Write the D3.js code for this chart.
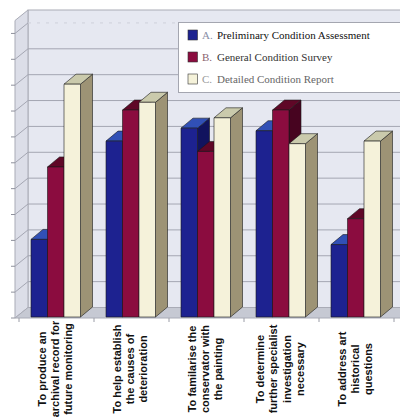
<!DOCTYPE html>
<html>
<head>
<meta charset="utf-8">
<script src="https://cdn.jsdelivr.net/npm/d3@7"></script>
<style>
  html, body { margin: 0; padding: 0; background: #fff; }
  svg { display: block; }
</style>
</head>
<body>
<svg id="chart" width="400" height="418"></svg>
<script>
// Purposes of each type of condition report
const categories = [
  ["To produce an", "archival record for", "future monitoring"],
  ["To help establish", "the causes of", "deterioration"],
  ["To familarise the", "conservator with", "the painting"],
  ["To determine", "further specialist", "investigation", "necessary"],
  ["To address art", "historical", "questions"]
];
const seriesNames = [
  ["A.", "Preliminary Condition Assessment"],
  ["B.", "General Condition Survey"],
  ["C.", "Detailed Condition Report"]
];
const seriesA = [3.0, 6.8, 7.3, 7.2, 2.8];
const seriesB = [5.8, 8.0, 6.4, 8.0, 3.8];
const seriesC = [9.0, 8.3, 7.7, 6.7, 6.8];
const gridValues = [0, 1, 2, 3, 4, 5, 6, 7, 8, 9, 10, 11];

const series = [seriesA, seriesB, seriesC];
const palette = [
  { front: "#1d2290", top: "#3150b6", side: "#11135e" },
  { front: "#8b0c3f", top: "#5f0727", side: "#470420" },
  { front: "#f5f2da", top: "#cacaac", side: "#9d9375" }
];
const legendText = [
  { key: "#8a8fa8", label: "#111" },
  { key: "#8a6470", label: "#333" },
  { key: "#999", label: "#666" }
];

const svg = d3.select("#chart");
const W = 400;

// oblique projection: the floor recedes by (depthX, depthY)
const depthX = 13, depthY = -10.5;
const floorFrontY = 318;
const wallLeft = 28, sideFront = wallLeft - depthX;

const yBack = d3.scaleLinear().domain([0, 11.5]).range([floorFrontY + depthY, 10]);
const yFront = d3.scaleLinear().domain([0, 11.5]).range([317, 317 - (yBack(0) - yBack(11.5))]);

const x = d3.scaleBand().domain(d3.range(categories.length)).range([19, 394]);
const xSub = d3.scaleBand().domain(d3.range(series.length)).range([12, 61.5]);
const barDX = 12, barDY = -10;

// back wall
svg.append("rect")
  .attr("x", wallLeft).attr("y", yBack(11.5))
  .attr("width", W - wallLeft + 5).attr("height", yBack(0) - yBack(11.5))
  .attr("fill", "#e6e8f1").attr("stroke", "#a9abb6").attr("stroke-width", 1);

// left side wall
svg.append("path")
  .attr("d", `M${sideFront},${floorFrontY} L${sideFront},${yBack(11.5) - depthY} L${wallLeft},${yBack(11.5)} L${wallLeft},${yBack(0)} Z`)
  .attr("fill", "#dcdee8").attr("stroke", "#a9abb6").attr("stroke-width", 1);

// gridlines on the back wall and the side wall
const grid = svg.append("g");
grid.selectAll("line.back").data(gridValues.filter(v => v > 0)).join("line")
  .attr("class", "back")
  .attr("x1", wallLeft).attr("x2", W + 5)
  .attr("y1", d => yBack(d)).attr("y2", d => yBack(d))
  .attr("stroke", d => d === 11 ? "#cfd0da" : "#a4a6b2")
  .attr("stroke-width", 1)
  .attr("stroke-dasharray", d => d === 11 ? "3,6" : null);
grid.selectAll("line.side").data(gridValues.filter(v => v > 0)).join("line")
  .attr("class", "side")
  .attr("x1", sideFront).attr("x2", wallLeft)
  .attr("y1", d => yBack(d) - depthY).attr("y2", d => yBack(d))
  .attr("stroke", "#a4a6b2").attr("stroke-width", 1);
grid.selectAll("line.tick").data(gridValues).join("line")
  .attr("class", "tick")
  .attr("x1", sideFront - 4).attr("x2", sideFront)
  .attr("y1", d => yBack(d) - depthY).attr("y2", d => yBack(d) - depthY)
  .attr("stroke", "#8f919c").attr("stroke-width", 1);

// floor
svg.append("path")
  .attr("d", `M${sideFront},${floorFrontY} L${W + 5},${floorFrontY} L${W + 5},${yBack(0)} L${wallLeft},${yBack(0)} Z`)
  .attr("fill", "#c6c9d3").attr("stroke", "#a9abb6").attr("stroke-width", 1);
svg.selectAll("line.cat").data(d3.range(categories.length + 1)).join("line")
  .attr("class", "cat")
  .attr("x1", i => 19 + i * x.step()).attr("x2", i => 19 + i * x.step())
  .attr("y1", floorFrontY).attr("y2", floorFrontY + 4)
  .attr("stroke", "#9a9ca6").attr("stroke-width", 1);

// 3D columns, drawn left to right so neighbours overlap correctly
const bars = [];
categories.forEach((c, ci) => {
  series.forEach((s, si) => bars.push({ ci, si, v: s[ci] }));
});
const barG = svg.append("g").attr("stroke", "#1a1a1a").attr("stroke-width", 0.6).attr("stroke-linejoin", "round");
bars.forEach(b => {
  const x0 = x(b.ci) + xSub(b.si), x1 = x0 + xSub.bandwidth();
  const y0 = yFront(0), y1 = yFront(b.v);
  const col = palette[b.si];
  const g = barG.append("g");
  g.append("path")
    .attr("d", `M${x1},${y0} L${x1 + barDX},${y0 + barDY} L${x1 + barDX},${y1 + barDY} L${x1},${y1} Z`)
    .attr("fill", col.side);
  g.append("path")
    .attr("d", `M${x0},${y1} L${x0 + barDX},${y1 + barDY} L${x1 + barDX},${y1 + barDY} L${x1},${y1} Z`)
    .attr("fill", col.top);
  g.append("rect")
    .attr("x", x0).attr("y", y1).attr("width", x1 - x0).attr("height", y0 - y1)
    .attr("fill", col.front);
});

// category labels, rotated
const labelG = svg.append("g")
  .attr("font-family", "'Liberation Sans', Arial, sans-serif")
  .attr("font-size", 11).attr("font-weight", "bold").attr("fill", "#111");
categories.forEach((lines, ci) => {
  const cx = x(ci) + x.bandwidth() / 2 - 1.5;
  const g = labelG.append("g").attr("transform", `translate(${cx},369) rotate(-90)`);
  const n = lines.length;
  g.selectAll("text").data(lines).join("text")
    .attr("x", 0)
    .attr("y", (d, i) => (i - (n - 1) / 2) * 13.3)
    .attr("dy", "0.35em")
    .attr("text-anchor", "middle")
    .text(d => d);
});

// legend
const lg = svg.append("g");
lg.append("rect")
  .attr("x", 178.5).attr("y", 22.5).attr("width", 240).attr("height", 70)
  .attr("fill", "#fff").attr("stroke", "#a4a6b0").attr("stroke-width", 1);
seriesNames.forEach((nm, i) => {
  const cy = 35 + i * 22;
  lg.append("rect")
    .attr("x", 188).attr("y", cy - 5).attr("width", 9.5).attr("height", 10)
    .attr("fill", palette[i].front).attr("stroke", "#333").attr("stroke-width", 0.6);
  const t = lg.append("text")
    .attr("x", 202).attr("y", cy + 4)
    .attr("font-family", "'Liberation Serif', 'Times New Roman', serif")
    .attr("font-size", 11);
  t.append("tspan").attr("fill", legendText[i].key).text(nm[0]);
  t.append("tspan").attr("x", 217).attr("fill", legendText[i].label).text(nm[1]);
});
</script>
</body>
</html>
